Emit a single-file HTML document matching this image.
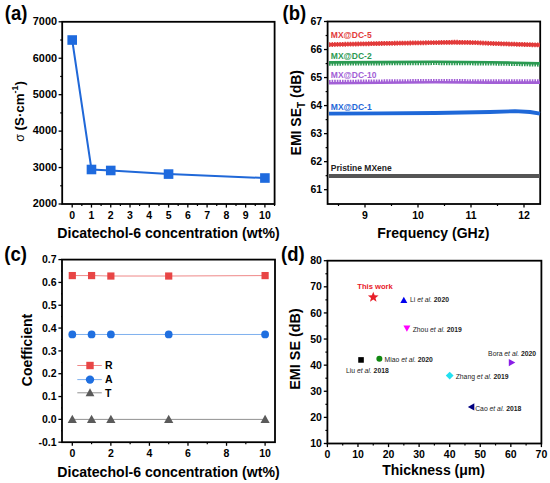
<!DOCTYPE html>
<html><head><meta charset="utf-8"><style>
html,body{margin:0;padding:0;background:#fff;}
svg{display:block;font-family:"Liberation Sans", sans-serif;}
</style></head><body>
<svg width="550" height="483" viewBox="0 0 550 483">
<rect width="550" height="483" fill="#fff"/>
<rect x="62.2" y="21.8" width="212.40000000000003" height="182.2" fill="none" stroke="#000" stroke-width="1.8"/>
<line x1="58.60" y1="204.00" x2="62.20" y2="204.00" stroke="#000" stroke-width="1.3"/>
<text x="57.00" y="207.30" font-size="10.9" text-anchor="end" font-weight="bold" fill="#000" >2000</text>
<line x1="58.60" y1="167.56" x2="62.20" y2="167.56" stroke="#000" stroke-width="1.3"/>
<text x="57.00" y="170.86" font-size="10.9" text-anchor="end" font-weight="bold" fill="#000" >3000</text>
<line x1="58.60" y1="131.12" x2="62.20" y2="131.12" stroke="#000" stroke-width="1.3"/>
<text x="57.00" y="134.42" font-size="10.9" text-anchor="end" font-weight="bold" fill="#000" >4000</text>
<line x1="58.60" y1="94.68" x2="62.20" y2="94.68" stroke="#000" stroke-width="1.3"/>
<text x="57.00" y="97.98" font-size="10.9" text-anchor="end" font-weight="bold" fill="#000" >5000</text>
<line x1="58.60" y1="58.24" x2="62.20" y2="58.24" stroke="#000" stroke-width="1.3"/>
<text x="57.00" y="61.54" font-size="10.9" text-anchor="end" font-weight="bold" fill="#000" >6000</text>
<line x1="58.60" y1="21.80" x2="62.20" y2="21.80" stroke="#000" stroke-width="1.3"/>
<text x="57.00" y="25.10" font-size="10.9" text-anchor="end" font-weight="bold" fill="#000" >7000</text>
<line x1="60.20" y1="185.78" x2="62.20" y2="185.78" stroke="#000" stroke-width="1.2"/>
<line x1="60.20" y1="149.34" x2="62.20" y2="149.34" stroke="#000" stroke-width="1.2"/>
<line x1="60.20" y1="112.90" x2="62.20" y2="112.90" stroke="#000" stroke-width="1.2"/>
<line x1="60.20" y1="76.46" x2="62.20" y2="76.46" stroke="#000" stroke-width="1.2"/>
<line x1="60.20" y1="40.02" x2="62.20" y2="40.02" stroke="#000" stroke-width="1.2"/>
<line x1="72.20" y1="204.00" x2="72.20" y2="207.60" stroke="#000" stroke-width="1.3"/>
<text x="72.20" y="218.50" font-size="10.5" text-anchor="middle" font-weight="bold" fill="#000" >0</text>
<line x1="91.47" y1="204.00" x2="91.47" y2="207.60" stroke="#000" stroke-width="1.3"/>
<text x="91.47" y="218.50" font-size="10.5" text-anchor="middle" font-weight="bold" fill="#000" >1</text>
<line x1="110.74" y1="204.00" x2="110.74" y2="207.60" stroke="#000" stroke-width="1.3"/>
<text x="110.74" y="218.50" font-size="10.5" text-anchor="middle" font-weight="bold" fill="#000" >2</text>
<line x1="130.01" y1="204.00" x2="130.01" y2="207.60" stroke="#000" stroke-width="1.3"/>
<text x="130.01" y="218.50" font-size="10.5" text-anchor="middle" font-weight="bold" fill="#000" >3</text>
<line x1="149.28" y1="204.00" x2="149.28" y2="207.60" stroke="#000" stroke-width="1.3"/>
<text x="149.28" y="218.50" font-size="10.5" text-anchor="middle" font-weight="bold" fill="#000" >4</text>
<line x1="168.55" y1="204.00" x2="168.55" y2="207.60" stroke="#000" stroke-width="1.3"/>
<text x="168.55" y="218.50" font-size="10.5" text-anchor="middle" font-weight="bold" fill="#000" >5</text>
<line x1="187.82" y1="204.00" x2="187.82" y2="207.60" stroke="#000" stroke-width="1.3"/>
<text x="187.82" y="218.50" font-size="10.5" text-anchor="middle" font-weight="bold" fill="#000" >6</text>
<line x1="207.09" y1="204.00" x2="207.09" y2="207.60" stroke="#000" stroke-width="1.3"/>
<text x="207.09" y="218.50" font-size="10.5" text-anchor="middle" font-weight="bold" fill="#000" >7</text>
<line x1="226.36" y1="204.00" x2="226.36" y2="207.60" stroke="#000" stroke-width="1.3"/>
<text x="226.36" y="218.50" font-size="10.5" text-anchor="middle" font-weight="bold" fill="#000" >8</text>
<line x1="245.63" y1="204.00" x2="245.63" y2="207.60" stroke="#000" stroke-width="1.3"/>
<text x="245.63" y="218.50" font-size="10.5" text-anchor="middle" font-weight="bold" fill="#000" >9</text>
<line x1="264.90" y1="204.00" x2="264.90" y2="207.60" stroke="#000" stroke-width="1.3"/>
<text x="264.90" y="218.50" font-size="10.5" text-anchor="middle" font-weight="bold" fill="#000" >10</text>
<line x1="81.84" y1="204.00" x2="81.84" y2="206.00" stroke="#000" stroke-width="1.2"/>
<line x1="101.11" y1="204.00" x2="101.11" y2="206.00" stroke="#000" stroke-width="1.2"/>
<line x1="120.38" y1="204.00" x2="120.38" y2="206.00" stroke="#000" stroke-width="1.2"/>
<line x1="139.64" y1="204.00" x2="139.64" y2="206.00" stroke="#000" stroke-width="1.2"/>
<line x1="158.92" y1="204.00" x2="158.92" y2="206.00" stroke="#000" stroke-width="1.2"/>
<line x1="178.19" y1="204.00" x2="178.19" y2="206.00" stroke="#000" stroke-width="1.2"/>
<line x1="197.45" y1="204.00" x2="197.45" y2="206.00" stroke="#000" stroke-width="1.2"/>
<line x1="216.73" y1="204.00" x2="216.73" y2="206.00" stroke="#000" stroke-width="1.2"/>
<line x1="236.00" y1="204.00" x2="236.00" y2="206.00" stroke="#000" stroke-width="1.2"/>
<line x1="255.26" y1="204.00" x2="255.26" y2="206.00" stroke="#000" stroke-width="1.2"/>
<line x1="274.54" y1="204.00" x2="274.54" y2="206.00" stroke="#000" stroke-width="1.2"/>
<text x="57.30" y="238.30" font-size="14.1" text-anchor="start" font-weight="bold" fill="#000" >Dicatechol-6 concentration (wt%)</text>
<text transform="translate(4.80,20.00) scale(0.95,1)" font-size="19.5" font-weight="bold">(a)</text>
<g transform="translate(23.8,111.4) rotate(-90)"><text x="0" y="0" text-anchor="middle" font-size="13.3" font-weight="bold"><tspan font-weight="normal" font-size="12.5">σ</tspan> (S·cm<tspan font-size="9" dy="-6">-1</tspan><tspan dy="6">)</tspan></text></g>
<polyline fill="none" stroke="#2068d8" stroke-width="2" points="72.20,40.02 91.47,169.49 110.74,170.48 168.55,174.08 264.90,178.02"/>
<rect x="67.40" y="35.22" width="9.6" height="9.6" fill="#1e6ade"/>
<rect x="86.67" y="164.69" width="9.6" height="9.6" fill="#1e6ade"/>
<rect x="105.94" y="165.68" width="9.6" height="9.6" fill="#1e6ade"/>
<rect x="163.75" y="169.28" width="9.6" height="9.6" fill="#1e6ade"/>
<rect x="260.10" y="173.22" width="9.6" height="9.6" fill="#1e6ade"/>
<rect x="327.6" y="21.5" width="212.60000000000002" height="182.5" fill="none" stroke="#000" stroke-width="1.8"/>
<line x1="324.00" y1="189.68" x2="327.60" y2="189.68" stroke="#000" stroke-width="1.3"/>
<text x="322.10" y="193.28" font-size="10.5" text-anchor="end" font-weight="bold" fill="#000" >61</text>
<line x1="324.00" y1="161.65" x2="327.60" y2="161.65" stroke="#000" stroke-width="1.3"/>
<text x="322.10" y="165.25" font-size="10.5" text-anchor="end" font-weight="bold" fill="#000" >62</text>
<line x1="324.00" y1="133.62" x2="327.60" y2="133.62" stroke="#000" stroke-width="1.3"/>
<text x="322.10" y="137.22" font-size="10.5" text-anchor="end" font-weight="bold" fill="#000" >63</text>
<line x1="324.00" y1="105.59" x2="327.60" y2="105.59" stroke="#000" stroke-width="1.3"/>
<text x="322.10" y="109.19" font-size="10.5" text-anchor="end" font-weight="bold" fill="#000" >64</text>
<line x1="324.00" y1="77.56" x2="327.60" y2="77.56" stroke="#000" stroke-width="1.3"/>
<text x="322.10" y="81.16" font-size="10.5" text-anchor="end" font-weight="bold" fill="#000" >65</text>
<line x1="324.00" y1="49.53" x2="327.60" y2="49.53" stroke="#000" stroke-width="1.3"/>
<text x="322.10" y="53.13" font-size="10.5" text-anchor="end" font-weight="bold" fill="#000" >66</text>
<line x1="324.00" y1="21.50" x2="327.60" y2="21.50" stroke="#000" stroke-width="1.3"/>
<text x="322.10" y="25.10" font-size="10.5" text-anchor="end" font-weight="bold" fill="#000" >67</text>
<line x1="325.60" y1="175.67" x2="327.60" y2="175.67" stroke="#000" stroke-width="1.2"/>
<line x1="325.60" y1="147.63" x2="327.60" y2="147.63" stroke="#000" stroke-width="1.2"/>
<line x1="325.60" y1="119.61" x2="327.60" y2="119.61" stroke="#000" stroke-width="1.2"/>
<line x1="325.60" y1="91.58" x2="327.60" y2="91.58" stroke="#000" stroke-width="1.2"/>
<line x1="325.60" y1="63.55" x2="327.60" y2="63.55" stroke="#000" stroke-width="1.2"/>
<line x1="325.60" y1="35.52" x2="327.60" y2="35.52" stroke="#000" stroke-width="1.2"/>
<line x1="365.00" y1="204.00" x2="365.00" y2="207.60" stroke="#000" stroke-width="1.3"/>
<text x="365.00" y="218.50" font-size="10.5" text-anchor="middle" font-weight="bold" fill="#000" >9</text>
<line x1="418.00" y1="204.00" x2="418.00" y2="207.60" stroke="#000" stroke-width="1.3"/>
<text x="418.00" y="218.50" font-size="10.5" text-anchor="middle" font-weight="bold" fill="#000" >10</text>
<line x1="471.00" y1="204.00" x2="471.00" y2="207.60" stroke="#000" stroke-width="1.3"/>
<text x="471.00" y="218.50" font-size="10.5" text-anchor="middle" font-weight="bold" fill="#000" >11</text>
<line x1="524.00" y1="204.00" x2="524.00" y2="207.60" stroke="#000" stroke-width="1.3"/>
<text x="524.00" y="218.50" font-size="10.5" text-anchor="middle" font-weight="bold" fill="#000" >12</text>
<line x1="338.50" y1="204.00" x2="338.50" y2="206.00" stroke="#000" stroke-width="1.2"/>
<line x1="391.50" y1="204.00" x2="391.50" y2="206.00" stroke="#000" stroke-width="1.2"/>
<line x1="444.50" y1="204.00" x2="444.50" y2="206.00" stroke="#000" stroke-width="1.2"/>
<line x1="497.50" y1="204.00" x2="497.50" y2="206.00" stroke="#000" stroke-width="1.2"/>
<text x="377.30" y="238.00" font-size="14" text-anchor="start" font-weight="bold" fill="#000" >Frequency (GHz)</text>
<text transform="translate(282.50,19.80) scale(0.95,1)" font-size="19.5" font-weight="bold">(b)</text>
<g transform="translate(300.8,112.7) rotate(-90)"><text x="0" y="0" text-anchor="middle" font-size="14" font-weight="bold">EMI SE<tspan font-size="10" dy="4">T</tspan><tspan dy="-4"> (dB)</tspan></text></g>
<path d="M329,44.6 L380,43.5 L435,42.6 L455,42.2 L475,42.6 L490,43.4 L515,44.2 L540,45" fill="none" stroke="#e23b3b" stroke-width="3.4" stroke-linejoin="round"/>
<path d="M329,44.6 L380,43.5 L435,42.6 L455,42.2 L475,42.6 L490,43.4 L515,44.2 L540,45" fill="none" stroke="#e23b3b" stroke-width="4.8" stroke-dasharray="1.4 1.2" stroke-linejoin="round"/>
<text x="330.80" y="37.80" font-size="8.5" text-anchor="start" font-weight="bold" fill="#e23b3b" >MX@DC-5</text>
<path d="M329,62.4 L380,62.1 L435,61.8 L490,62.2 L515,62.7 L540,63.400000000000006" fill="none" stroke="#2b9a52" stroke-width="2.6" stroke-linejoin="round"/>
<path d="M329,64.2 L380,63.9 L435,63.599999999999994 L490,64.0 L515,64.5 L540,65.2" fill="none" stroke="#2b9a52" stroke-width="3.0" stroke-dasharray="1.6 1.0" stroke-linejoin="round"/>
<text x="330.80" y="59.20" font-size="8.5" text-anchor="start" font-weight="bold" fill="#2b9a52" >MX@DC-2</text>
<path d="M329,83.2 L380,82.7 L435,82.2 L490,82.6 L540,82.6" fill="none" stroke="#a25fd6" stroke-width="2.6" stroke-linejoin="round"/>
<path d="M329,81.4 L380,80.9 L435,80.4 L490,80.8 L540,80.8" fill="none" stroke="#a25fd6" stroke-width="3.0" stroke-dasharray="1.6 1.0" stroke-linejoin="round"/>
<text x="330.80" y="77.80" font-size="8.5" text-anchor="start" font-weight="bold" fill="#a25fd6" >MX@DC-10</text>
<path d="M329,113.6 L380,113.3 L435,113 L490,112 L515,111.2 L530,112 L540,113.6" fill="none" stroke="#1f68d8" stroke-width="3.8" stroke-linejoin="round"/>
<text x="330.80" y="109.60" font-size="8.5" text-anchor="start" font-weight="bold" fill="#1f68d8" >MX@DC-1</text>
<path d="M329,176 L540,176" fill="none" stroke="#555555" stroke-width="3.8" stroke-linejoin="round"/>
<text x="330.80" y="171.20" font-size="8.5" text-anchor="start" font-weight="bold" fill="#222" >Pristine MXene</text>
<rect x="62.0" y="259.6" width="213.0" height="182.59999999999997" fill="none" stroke="#000" stroke-width="1.8"/>
<line x1="58.40" y1="442.20" x2="62.00" y2="442.20" stroke="#000" stroke-width="1.3"/>
<text x="56.50" y="445.80" font-size="10.5" text-anchor="end" font-weight="bold" fill="#000" >-0.1</text>
<line x1="58.40" y1="419.38" x2="62.00" y2="419.38" stroke="#000" stroke-width="1.3"/>
<text x="56.50" y="422.98" font-size="10.5" text-anchor="end" font-weight="bold" fill="#000" >0.0</text>
<line x1="58.40" y1="396.55" x2="62.00" y2="396.55" stroke="#000" stroke-width="1.3"/>
<text x="56.50" y="400.15" font-size="10.5" text-anchor="end" font-weight="bold" fill="#000" >0.1</text>
<line x1="58.40" y1="373.72" x2="62.00" y2="373.72" stroke="#000" stroke-width="1.3"/>
<text x="56.50" y="377.32" font-size="10.5" text-anchor="end" font-weight="bold" fill="#000" >0.2</text>
<line x1="58.40" y1="350.90" x2="62.00" y2="350.90" stroke="#000" stroke-width="1.3"/>
<text x="56.50" y="354.50" font-size="10.5" text-anchor="end" font-weight="bold" fill="#000" >0.3</text>
<line x1="58.40" y1="328.07" x2="62.00" y2="328.07" stroke="#000" stroke-width="1.3"/>
<text x="56.50" y="331.68" font-size="10.5" text-anchor="end" font-weight="bold" fill="#000" >0.4</text>
<line x1="58.40" y1="305.25" x2="62.00" y2="305.25" stroke="#000" stroke-width="1.3"/>
<text x="56.50" y="308.85" font-size="10.5" text-anchor="end" font-weight="bold" fill="#000" >0.5</text>
<line x1="58.40" y1="282.43" x2="62.00" y2="282.43" stroke="#000" stroke-width="1.3"/>
<text x="56.50" y="286.03" font-size="10.5" text-anchor="end" font-weight="bold" fill="#000" >0.6</text>
<line x1="58.40" y1="259.60" x2="62.00" y2="259.60" stroke="#000" stroke-width="1.3"/>
<text x="56.50" y="263.20" font-size="10.5" text-anchor="end" font-weight="bold" fill="#000" >0.7</text>
<line x1="61.00" y1="430.79" x2="62.00" y2="430.79" stroke="#000" stroke-width="1.0"/>
<line x1="61.00" y1="407.96" x2="62.00" y2="407.96" stroke="#000" stroke-width="1.0"/>
<line x1="61.00" y1="385.14" x2="62.00" y2="385.14" stroke="#000" stroke-width="1.0"/>
<line x1="61.00" y1="362.31" x2="62.00" y2="362.31" stroke="#000" stroke-width="1.0"/>
<line x1="61.00" y1="339.49" x2="62.00" y2="339.49" stroke="#000" stroke-width="1.0"/>
<line x1="61.00" y1="316.66" x2="62.00" y2="316.66" stroke="#000" stroke-width="1.0"/>
<line x1="61.00" y1="293.84" x2="62.00" y2="293.84" stroke="#000" stroke-width="1.0"/>
<line x1="61.00" y1="271.01" x2="62.00" y2="271.01" stroke="#000" stroke-width="1.0"/>
<line x1="72.30" y1="442.20" x2="72.30" y2="445.80" stroke="#000" stroke-width="1.3"/>
<text x="72.30" y="456.70" font-size="10.5" text-anchor="middle" font-weight="bold" fill="#000" >0</text>
<line x1="110.86" y1="442.20" x2="110.86" y2="445.80" stroke="#000" stroke-width="1.3"/>
<text x="110.86" y="456.70" font-size="10.5" text-anchor="middle" font-weight="bold" fill="#000" >2</text>
<line x1="149.42" y1="442.20" x2="149.42" y2="445.80" stroke="#000" stroke-width="1.3"/>
<text x="149.42" y="456.70" font-size="10.5" text-anchor="middle" font-weight="bold" fill="#000" >4</text>
<line x1="187.98" y1="442.20" x2="187.98" y2="445.80" stroke="#000" stroke-width="1.3"/>
<text x="187.98" y="456.70" font-size="10.5" text-anchor="middle" font-weight="bold" fill="#000" >6</text>
<line x1="226.54" y1="442.20" x2="226.54" y2="445.80" stroke="#000" stroke-width="1.3"/>
<text x="226.54" y="456.70" font-size="10.5" text-anchor="middle" font-weight="bold" fill="#000" >8</text>
<line x1="265.10" y1="442.20" x2="265.10" y2="445.80" stroke="#000" stroke-width="1.3"/>
<text x="265.10" y="456.70" font-size="10.5" text-anchor="middle" font-weight="bold" fill="#000" >10</text>
<line x1="91.58" y1="442.20" x2="91.58" y2="444.20" stroke="#000" stroke-width="1.2"/>
<line x1="130.14" y1="442.20" x2="130.14" y2="444.20" stroke="#000" stroke-width="1.2"/>
<line x1="168.70" y1="442.20" x2="168.70" y2="444.20" stroke="#000" stroke-width="1.2"/>
<line x1="207.26" y1="442.20" x2="207.26" y2="444.20" stroke="#000" stroke-width="1.2"/>
<line x1="245.82" y1="442.20" x2="245.82" y2="444.20" stroke="#000" stroke-width="1.2"/>
<text x="57.30" y="477.10" font-size="14.1" text-anchor="start" font-weight="bold" fill="#000" >Dicatechol-6 concentration (wt%)</text>
<text transform="translate(4.30,260.80) scale(0.95,1)" font-size="19.5" font-weight="bold">(c)</text>
<g transform="translate(32.1,350) rotate(-90)"><text x="0" y="0" text-anchor="middle" font-size="14" font-weight="bold">Coefficient</text></g>
<polyline fill="none" stroke="#ef8888" stroke-width="1" points="72.30,275.58 91.58,275.58 110.86,276.03 168.70,276.03 265.10,275.58"/>
<polyline fill="none" stroke="#7fb0ee" stroke-width="1" points="72.30,334.47 91.58,334.47 110.86,334.47 168.70,334.47 265.10,334.47"/>
<polyline fill="none" stroke="#909090" stroke-width="1" points="72.30,419.38 91.58,419.38 110.86,419.38 168.70,419.38 265.10,419.38"/>
<rect x="68.70" y="271.98" width="7.2" height="7.2" fill="#e84545"/>
<rect x="87.98" y="271.98" width="7.2" height="7.2" fill="#e84545"/>
<rect x="107.26" y="272.43" width="7.2" height="7.2" fill="#e84545"/>
<rect x="165.10" y="272.43" width="7.2" height="7.2" fill="#e84545"/>
<rect x="261.50" y="271.98" width="7.2" height="7.2" fill="#e84545"/>
<circle cx="72.30" cy="334.47" r="3.9" fill="#1f6fe0"/>
<circle cx="91.58" cy="334.47" r="3.9" fill="#1f6fe0"/>
<circle cx="110.86" cy="334.47" r="3.9" fill="#1f6fe0"/>
<circle cx="168.70" cy="334.47" r="3.9" fill="#1f6fe0"/>
<circle cx="265.10" cy="334.47" r="3.9" fill="#1f6fe0"/>
<polygon points="67.70,423.01 76.90,423.01 72.30,414.74" fill="#5a5a5a"/>
<polygon points="86.98,423.01 96.18,423.01 91.58,414.74" fill="#5a5a5a"/>
<polygon points="106.26,423.01 115.46,423.01 110.86,414.74" fill="#5a5a5a"/>
<polygon points="164.10,423.01 173.30,423.01 168.70,414.74" fill="#5a5a5a"/>
<polygon points="260.50,423.01 269.70,423.01 265.10,414.74" fill="#5a5a5a"/>
<line x1="77.30" y1="365.50" x2="101.80" y2="365.50" stroke="#ef8888" stroke-width="1"/>
<rect x="86.3" y="361.8" width="7.4" height="7.4" fill="#e84545"/>
<text x="105.00" y="369.20" font-size="10.5" text-anchor="start" font-weight="bold" fill="#000" >R</text>
<line x1="77.30" y1="379.60" x2="101.80" y2="379.60" stroke="#7fb0ee" stroke-width="1"/>
<circle cx="90" cy="379.6" r="4.2" fill="#1f6fe0"/>
<text x="105.00" y="383.30" font-size="10.5" text-anchor="start" font-weight="bold" fill="#000" >A</text>
<line x1="77.30" y1="392.80" x2="101.80" y2="392.80" stroke="#909090" stroke-width="1"/>
<polygon points="85.60,396.26 94.40,396.26 90.00,388.34" fill="#5a5a5a"/>
<text x="105.00" y="396.50" font-size="10.5" text-anchor="start" font-weight="bold" fill="#000" >T</text>
<rect x="327.4" y="260.7" width="214.0" height="182.8" fill="none" stroke="#000" stroke-width="1.8"/>
<line x1="323.80" y1="443.50" x2="327.40" y2="443.50" stroke="#000" stroke-width="1.3"/>
<text x="321.90" y="447.10" font-size="10.5" text-anchor="end" font-weight="bold" fill="#000" >10</text>
<line x1="323.80" y1="417.39" x2="327.40" y2="417.39" stroke="#000" stroke-width="1.3"/>
<text x="321.90" y="420.99" font-size="10.5" text-anchor="end" font-weight="bold" fill="#000" >20</text>
<line x1="323.80" y1="391.27" x2="327.40" y2="391.27" stroke="#000" stroke-width="1.3"/>
<text x="321.90" y="394.87" font-size="10.5" text-anchor="end" font-weight="bold" fill="#000" >30</text>
<line x1="323.80" y1="365.16" x2="327.40" y2="365.16" stroke="#000" stroke-width="1.3"/>
<text x="321.90" y="368.76" font-size="10.5" text-anchor="end" font-weight="bold" fill="#000" >40</text>
<line x1="323.80" y1="339.04" x2="327.40" y2="339.04" stroke="#000" stroke-width="1.3"/>
<text x="321.90" y="342.64" font-size="10.5" text-anchor="end" font-weight="bold" fill="#000" >50</text>
<line x1="323.80" y1="312.93" x2="327.40" y2="312.93" stroke="#000" stroke-width="1.3"/>
<text x="321.90" y="316.53" font-size="10.5" text-anchor="end" font-weight="bold" fill="#000" >60</text>
<line x1="323.80" y1="286.81" x2="327.40" y2="286.81" stroke="#000" stroke-width="1.3"/>
<text x="321.90" y="290.41" font-size="10.5" text-anchor="end" font-weight="bold" fill="#000" >70</text>
<line x1="323.80" y1="260.70" x2="327.40" y2="260.70" stroke="#000" stroke-width="1.3"/>
<text x="321.90" y="264.30" font-size="10.5" text-anchor="end" font-weight="bold" fill="#000" >80</text>
<line x1="325.40" y1="430.44" x2="327.40" y2="430.44" stroke="#000" stroke-width="1.2"/>
<line x1="325.40" y1="404.33" x2="327.40" y2="404.33" stroke="#000" stroke-width="1.2"/>
<line x1="325.40" y1="378.21" x2="327.40" y2="378.21" stroke="#000" stroke-width="1.2"/>
<line x1="325.40" y1="352.10" x2="327.40" y2="352.10" stroke="#000" stroke-width="1.2"/>
<line x1="325.40" y1="325.99" x2="327.40" y2="325.99" stroke="#000" stroke-width="1.2"/>
<line x1="325.40" y1="299.87" x2="327.40" y2="299.87" stroke="#000" stroke-width="1.2"/>
<line x1="325.40" y1="273.76" x2="327.40" y2="273.76" stroke="#000" stroke-width="1.2"/>
<line x1="327.40" y1="443.50" x2="327.40" y2="447.10" stroke="#000" stroke-width="1.3"/>
<text x="327.40" y="458.00" font-size="10.5" text-anchor="middle" font-weight="bold" fill="#000" >0</text>
<line x1="357.97" y1="443.50" x2="357.97" y2="447.10" stroke="#000" stroke-width="1.3"/>
<text x="357.97" y="458.00" font-size="10.5" text-anchor="middle" font-weight="bold" fill="#000" >10</text>
<line x1="388.54" y1="443.50" x2="388.54" y2="447.10" stroke="#000" stroke-width="1.3"/>
<text x="388.54" y="458.00" font-size="10.5" text-anchor="middle" font-weight="bold" fill="#000" >20</text>
<line x1="419.11" y1="443.50" x2="419.11" y2="447.10" stroke="#000" stroke-width="1.3"/>
<text x="419.11" y="458.00" font-size="10.5" text-anchor="middle" font-weight="bold" fill="#000" >30</text>
<line x1="449.69" y1="443.50" x2="449.69" y2="447.10" stroke="#000" stroke-width="1.3"/>
<text x="449.69" y="458.00" font-size="10.5" text-anchor="middle" font-weight="bold" fill="#000" >40</text>
<line x1="480.26" y1="443.50" x2="480.26" y2="447.10" stroke="#000" stroke-width="1.3"/>
<text x="480.26" y="458.00" font-size="10.5" text-anchor="middle" font-weight="bold" fill="#000" >50</text>
<line x1="510.83" y1="443.50" x2="510.83" y2="447.10" stroke="#000" stroke-width="1.3"/>
<text x="510.83" y="458.00" font-size="10.5" text-anchor="middle" font-weight="bold" fill="#000" >60</text>
<line x1="541.40" y1="443.50" x2="541.40" y2="447.10" stroke="#000" stroke-width="1.3"/>
<text x="541.40" y="458.00" font-size="10.5" text-anchor="middle" font-weight="bold" fill="#000" >70</text>
<line x1="342.69" y1="443.50" x2="342.69" y2="445.50" stroke="#000" stroke-width="1.2"/>
<line x1="373.26" y1="443.50" x2="373.26" y2="445.50" stroke="#000" stroke-width="1.2"/>
<line x1="403.83" y1="443.50" x2="403.83" y2="445.50" stroke="#000" stroke-width="1.2"/>
<line x1="434.40" y1="443.50" x2="434.40" y2="445.50" stroke="#000" stroke-width="1.2"/>
<line x1="464.97" y1="443.50" x2="464.97" y2="445.50" stroke="#000" stroke-width="1.2"/>
<line x1="495.54" y1="443.50" x2="495.54" y2="445.50" stroke="#000" stroke-width="1.2"/>
<line x1="526.11" y1="443.50" x2="526.11" y2="445.50" stroke="#000" stroke-width="1.2"/>
<text x="382.20" y="475.00" font-size="14" text-anchor="start" font-weight="bold" fill="#000" >Thickness (μm)</text>
<text transform="translate(281.00,261.00) scale(0.95,1)" font-size="19.5" font-weight="bold">(d)</text>
<g transform="translate(299.7,349) rotate(-90)"><text x="0" y="0" text-anchor="middle" font-size="14.4" font-weight="bold">EMI SE (dB)</text></g>
<polygon points="373.26,291.66 374.64,295.36 378.58,295.53 375.49,297.99 376.55,301.79 373.26,299.61 369.97,301.79 371.02,297.99 367.93,295.53 371.87,295.36" fill="#e8202a"/>
<text x="357.30" y="289.30" font-size="7.6" text-anchor="start" font-weight="bold" fill="#e8202a" >This work</text>
<polygon points="400.33,303.02 407.33,303.02 403.83,296.72" fill="#0000ee"/>
<polygon points="403.39,325.45 410.39,325.45 406.89,331.75" fill="#ff00ff"/>
<rect x="358.23" y="357.13" width="5.6" height="5.6" fill="#000"/>
<circle cx="379.37" cy="358.63" r="3" fill="#118811"/>
<polygon points="445.79,375.60 449.69,371.70 453.59,375.60 449.69,379.50" fill="#22e0f0"/>
<polygon points="474.33,403.34 474.33,410.54 467.85,406.94" fill="#000080"/>
<polygon points="508.81,358.95 508.81,366.15 515.29,362.55" fill="#8a1ee6"/>
<text x="410.00" y="301.60" font-size="6.8" fill="#222">Li <tspan font-style="italic">et al.</tspan> <tspan font-weight="bold">2020</tspan></text>
<text x="412.70" y="331.50" font-size="6.8" fill="#222">Zhou <tspan font-style="italic">et al.</tspan> <tspan font-weight="bold">2019</tspan></text>
<text x="384.50" y="361.60" font-size="6.8" fill="#222">Miao <tspan font-style="italic">et al.</tspan> <tspan font-weight="bold">2020</tspan></text>
<text x="346.00" y="373.00" font-size="6.8" fill="#222">Liu <tspan font-style="italic">et al.</tspan> <tspan font-weight="bold">2018</tspan></text>
<text x="455.70" y="378.80" font-size="6.8" fill="#222">Zhang <tspan font-style="italic">et al.</tspan> <tspan font-weight="bold">2019</tspan></text>
<text x="488.10" y="356.20" font-size="6.8" fill="#222">Bora <tspan font-style="italic">et al.</tspan> <tspan font-weight="bold">2020</tspan></text>
<text x="475.20" y="410.90" font-size="6.8" fill="#222">Cao <tspan font-style="italic">et al.</tspan> <tspan font-weight="bold">2018</tspan></text>
</svg>
</body></html>
